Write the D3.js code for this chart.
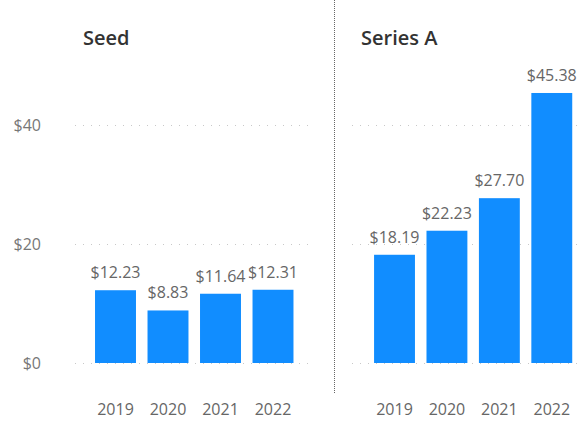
<!DOCTYPE html>
<html>
<head>
<meta charset="utf-8">
<script src="https://cdn.jsdelivr.net/npm/d3@7"></script>
<style>
  body { margin: 0; background: #fff; }
  svg { display: block; font-family: "Open Sans", sans-serif; }
</style>
</head>
<body>
<div id="chart"></div>
<script>
// Chart data
const years = ["2019", "2020", "2021", "2022"];
const seedValues = [12.23, 8.83, 11.64, 12.31];
const seriesAValues = [18.19, 22.23, 27.70, 45.38];
const yTicks = [0, 20, 40];

const width = 580, height = 422;
const barColor = "#118DFF";

const svg = d3.select("#chart")
  .append("svg")
  .attr("width", width)
  .attr("height", height);

// Shared value scale for both panels
const y = d3.scaleLinear().domain([0, 40]).range([363, 125]);

// y axis labels (only on the left)
svg.append("g")
  .selectAll("text")
  .data(yTicks)
  .enter()
  .append("text")
  .attr("x", 41)
  .attr("y", d => y(d))
  .attr("dy", "0.35em")
  .attr("text-anchor", "end")
  .attr("font-size", 16)
  .attr("fill", "#777")
  .text(d => "$" + d);

// Divider between the panels
svg.append("line")
  .attr("x1", 334.5).attr("x2", 334.5)
  .attr("y1", 0).attr("y2", 394)
  .attr("stroke", "#666")
  .attr("stroke-width", 1)
  .attr("stroke-dasharray", "1,1");

// Draw one panel of bars
function drawPanel(title, values, opts) {
  const g = svg.append("g");

  const x = d3.scaleBand()
    .domain(years)
    .range([opts.x0, opts.x1])
    .paddingInner(0.22)
    .paddingOuter(0.11);

  // dotted gridlines
  g.selectAll("line.grid")
    .data(yTicks)
    .enter()
    .append("line")
    .attr("class", "grid")
    .attr("x1", opts.gx0).attr("x2", opts.gx1)
    .attr("y1", d => y(d) + 0.5).attr("y2", d => y(d) + 0.5)
    .attr("stroke", "#c8c8c8")
    .attr("stroke-width", 1)
    .attr("stroke-dasharray", "1,7");

  g.append("text")
    .attr("x", opts.titleX)
    .attr("y", 45)
    .attr("font-size", 20)
    .attr("font-weight", 600)
    .attr("fill", "#333")
    .text(title);

  g.selectAll("rect")
    .data(values)
    .enter()
    .append("rect")
    .attr("x", (d, i) => x(years[i]))
    .attr("y", d => y(d))
    .attr("width", x.bandwidth())
    .attr("height", d => y(0) - y(d))
    .attr("fill", barColor);

  // value labels above bars
  g.selectAll("text.val")
    .data(values)
    .enter()
    .append("text")
    .attr("class", "val")
    .attr("x", (d, i) => x(years[i]) + x.bandwidth() / 2)
    .attr("y", d => y(d) - 12)
    .attr("text-anchor", "middle")
    .attr("font-size", 16)
    .attr("fill", "#666")
    .text(d => "$" + d.toFixed(2));

  // year labels
  g.selectAll("text.year")
    .data(years)
    .enter()
    .append("text")
    .attr("class", "year")
    .attr("x", d => x(d) + x.bandwidth() / 2)
    .attr("y", 415)
    .attr("text-anchor", "middle")
    .attr("font-size", 16)
    .attr("fill", "#666")
    .text(d => d);
}

drawPanel("Seed", seedValues, { x0: 89.25, x1: 299.25, gx0: 75, gx1: 310, titleX: 83 });
drawPanel("Series A", seriesAValues, { x0: 368.3, x1: 578, gx0: 352, gx1: 580, titleX: 361 });
</script>
</body>
</html>
